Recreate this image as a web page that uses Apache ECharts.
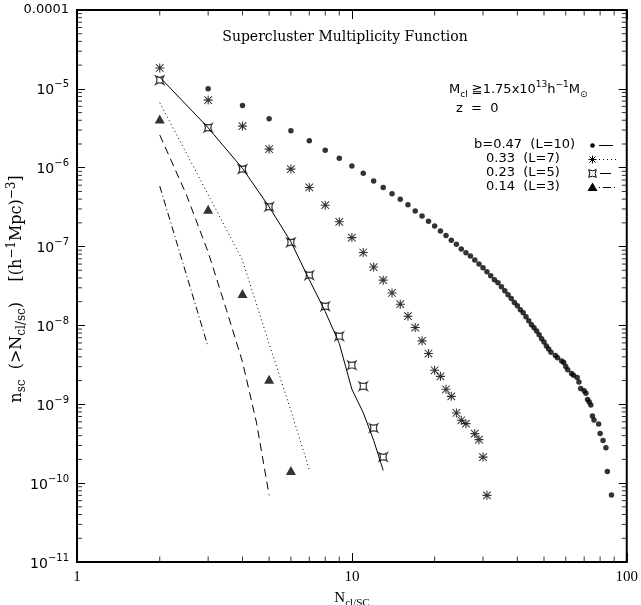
<!DOCTYPE html>
<html><head><meta charset="utf-8">
<script src="https://cdn.jsdelivr.net/npm/echarts@6/dist/echarts.min.js"></script>
<style>html,body{margin:0;padding:0;background:#fff}#c{width:641px;height:605px}</style>
</head><body><div id="c"></div>
<script>
// ---- tick values ----
const xTickValues = [1, 10, 100];
const yTickValues = [1e-11, 1e-10, 1e-9, 1e-8, 1e-7, 1e-6, 1e-5, 1e-4];
const minorMultipliers = [2, 3, 4, 5, 6, 7, 8, 9];

// ---- b=0.47 (L=10) : filled dots ----
const dotsN = [3,4,5,6,7,8,9,10,11,12,13,14,15,16,17,18,19,20,21,22,23,24,25,26,27,28,29,30,31,32,33,34,35,36,37,38,39,40,41,42,43,44,45,46,47,48,49,50,51,52,53,55,56,58,59,60,61,63,64,66,67,68,70,71,72,73,74,75,76,79,80,82,84,85,88];
const dotsNsc = [1.00e-5,6.17e-6,4.17e-6,2.95e-6,2.19e-6,1.66e-6,1.32e-6,1.05e-6,8.51e-7,6.76e-7,5.62e-7,4.68e-7,3.98e-7,3.39e-7,2.82e-7,2.45e-7,2.09e-7,1.82e-7,1.58e-7,1.38e-7,1.20e-7,1.07e-7,9.33e-8,8.32e-8,7.59e-8,6.76e-8,6.03e-8,5.37e-8,4.79e-8,4.27e-8,3.80e-8,3.47e-8,3.09e-8,2.75e-8,2.45e-8,2.19e-8,1.95e-8,1.78e-8,1.58e-8,1.45e-8,1.29e-8,1.15e-8,1.02e-8,9.33e-9,8.51e-9,7.59e-9,6.76e-9,6.17e-9,5.50e-9,5.01e-9,4.57e-9,4.17e-9,3.89e-9,3.55e-9,3.39e-9,3.02e-9,2.75e-9,2.45e-9,2.34e-9,2.19e-9,1.91e-9,1.58e-9,1.48e-9,1.38e-9,1.15e-9,1.07e-9,9.77e-10,7.08e-10,6.31e-10,5.62e-10,4.27e-10,3.47e-10,2.82e-10,1.41e-10,7.08e-11];

// ---- b=0.33 (L=7) : asterisks ----
const starsN = [2,3,4,5,6,7,8,9,10,11,12,13,14,15,16,17,18,19,20,21,22,23,24,25,26,28,29,30,31];
const starsNsc = [1.84e-5,7.2e-6,3.37e-6,1.72e-6,9.6e-7,5.62e-7,3.35e-7,2.06e-7,1.3e-7,8.4e-8,5.5e-8,3.75e-8,2.58e-8,1.86e-8,1.31e-8,9.4e-9,6.37e-9,4.4e-9,2.7e-9,2.26e-9,1.55e-9,1.26e-9,7.76e-10,6.27e-10,5.68e-10,4.25e-10,3.56e-10,2.14e-10,7e-11];

// ---- b=0.23 (L=5) : concave squares ----
const squaresN = [2,3,4,5,6,7,8,9,10,11,12,13];
const squaresNsc = [1.29e-5,3.21e-6,9.6e-7,3.19e-7,1.13e-7,4.34e-8,1.75e-8,7.3e-9,3.13e-9,1.69e-9,5.0e-10,2.14e-10];

// ---- b=0.14 (L=3) : triangles ----
const trianglesN = [2,3,4,5,6];
const trianglesNsc = [4.14e-6,2.98e-7,2.54e-8,2.07e-9,1.45e-10];

// ---- curves ----
const solidN = [2,3,4,5,6,7,8,9,10,11,12,13];
const solidNsc = [1.41e-5,3.21e-6,9.8e-7,3.19e-7,1.15e-7,3.8e-8,1.5e-8,5.9e-9,1.55e-9,7.8e-10,3.5e-10,1.45e-10];
const dottedN = [2,3,4,5,6,7];
const dottedNsc = [6.67e-6,4.57e-7,6.7e-8,5.85e-9,8.3e-10,1.48e-10];
const dashedN = [2,2.5,3,3.5,4,4.5,5];
const dashedNsc = [2.6e-6,4.56e-7,8.5e-8,1.56e-8,3.45e-9,5.82e-10,7e-11];
const dashDotN = [2,3];
const dashDotNsc = [5.84e-7,5.33e-9];

const zip = (a, b) => a.map((v, i) => [v, b[i]]);

const STAR = 'path://M0,4.4L10,4.4L10,5.6L0,5.6Z M4.4,0L5.6,0L5.6,10L4.4,10Z M1.2,0.4L9.6,8.8L8.8,9.6L0.4,1.2Z M8.8,0.4L9.6,1.2L1.2,9.6L0.4,8.8Z';
const CSQ = 'path://M0,0Q5,3 10,0Q7,5 10,10Q5,7 0,10Q3,5 0,0Z';

const X0 = xTickValues[0], X1 = xTickValues[xTickValues.length - 1];
const Y0 = yTickValues[0], Y1 = yTickValues[yTickValues.length - 1];
const yMinor = [], xMinor = [];
for (let i = 0; i < yTickValues.length - 1; i++) minorMultipliers.forEach(k => yMinor.push(k * yTickValues[i]));
for (let i = 0; i < xTickValues.length - 1; i++) minorMultipliers.forEach(k => xMinor.push(k * xTickValues[i]));

const chart = echarts.init(document.getElementById('c'), null, {renderer: 'canvas'});

function xAxisCfg(pos, labels) {
  return {
    type: 'log', logBase: 10, min: X0, max: X1,
    position: pos, axisLine: {show: false},
    axisTick: {show: true, inside: true, length: 9, lineStyle: {color: '#000', width: 1}},
    splitLine: {show: false}, minorTick: {show: false},
    axisLabel: {show: labels, margin: 8, color: '#000', fontFamily: 'Liberation Serif', fontSize: 15,
      formatter: v => String(Math.round(v))}
  };
}
function yAxisCfg(pos, labels) {
  return {
    type: 'log', logBase: 10, min: Y0, max: Y1,
    position: pos, axisLine: {show: false},
    axisTick: {show: true, inside: true, length: 8, lineStyle: {color: '#000', width: 1}},
    splitLine: {show: false}, minorTick: {show: false},
    axisLabel: {show: labels, margin: 8, color: '#000', fontFamily: 'DejaVu Sans',
      formatter: v => {
        const e = Math.round(Math.log10(v));
        return e === -4 ? '{p|0.0001}' : '{b|10}{s|\u2212' + (-e) + '}';
      },
      rich: {
        p: {fontSize: 13, fontFamily: 'DejaVu Sans', color: '#000', verticalAlign: 'bottom', padding: [0, 0, 0, 0]},
        b: {fontSize: 14, fontFamily: 'DejaVu Sans', color: '#000', verticalAlign: 'bottom'},
        s: {fontSize: 10, fontFamily: 'DejaVu Sans', color: '#000', verticalAlign: 'bottom', padding: [0, 0, 8, 0]}
      }
    }
  };
}

const tickSeries = (data, size, offset) => ({
  type: 'scatter', data: data, symbol: 'rect', symbolSize: size, symbolOffset: offset,
  itemStyle: {color: '#000'}, clip: false, silent: true, z: 5, emphasis: {disabled: true}, tooltip: {show: false}
});

const lineStyleBase = {color: '#000', width: 1};
chart.setOption({
  animation: false,
  backgroundColor: '#fff',
  grid: {left: 77, top: 10, width: 551, height: 552, show: true, borderColor: '#000', borderWidth: 2, backgroundColor: 'transparent'},
  xAxis: [xAxisCfg('bottom', true), xAxisCfg('top', false)],
  yAxis: [yAxisCfg('left', true), yAxisCfg('right', false)],
  series: [
    {type: 'line', data: zip(solidN, solidNsc), showSymbol: false, lineStyle: Object.assign({type: 'solid'}, lineStyleBase), z: 2},
    {type: 'line', data: zip(dottedN, dottedNsc), showSymbol: false, lineStyle: Object.assign({type: [1, 3]}, lineStyleBase), z: 2},
    {type: 'line', data: zip(dashedN, dashedNsc), showSymbol: false, lineStyle: Object.assign({type: [8, 5]}, lineStyleBase), z: 2},
    {type: 'line', data: zip(dashDotN, dashDotNsc), showSymbol: false, lineStyle: Object.assign({type: [7, 3, 1, 3]}, lineStyleBase), z: 2},
    {type: 'scatter', data: zip(dotsN, dotsNsc), symbol: 'circle', symbolSize: 5.5, itemStyle: {color: '#000'}, z: 3},
    {type: 'scatter', data: zip(starsN, starsNsc), symbol: STAR, symbolSize: 9, itemStyle: {color: '#000'}, z: 3},
    {type: 'scatter', data: zip(squaresN, squaresNsc), symbol: CSQ, symbolSize: 8, itemStyle: {color: 'rgba(0,0,0,0)', borderColor: '#000', borderWidth: 1.2}, z: 3},
    {type: 'scatter', data: zip(trianglesN, trianglesNsc), symbol: 'triangle', symbolSize: [10, 9], itemStyle: {color: '#000'}, z: 3},
    // minor ticks on the four frame sides, placed through the axes
    tickSeries(yMinor.map(v => [X0, v]), [5, 1], [2.5, 0]),
    tickSeries(yMinor.map(v => [X1, v]), [5, 1], [-2.5, 0]),
    tickSeries(xMinor.map(v => [v, Y0]), [1, 5.5], [0, -2.75]),
    tickSeries(xMinor.map(v => [v, Y1]), [1, 5.5], [0, 2.75])
  ]
});

// ---- texts and legend key ----
const g = [];
const ln = (a, b, c, d, dash) => g.push({type: 'line', silent: true, z: 10, shape: {x1: a, y1: b, x2: c, y2: d}, style: Object.assign({stroke: '#000', lineWidth: 1}, dash ? {lineDash: dash} : {})});
const F = 13;
const richStd = (fam, fs) => ({
  n: {fontFamily: fam, fontSize: fs, color: '#000', verticalAlign: 'bottom', padding: [0, 0, 3, 0]},
  sub: {fontFamily: fam, fontSize: Math.round(fs * 0.72), color: '#000', verticalAlign: 'bottom', padding: [0, 0, 0, 0]},
  sup: {fontFamily: fam, fontSize: Math.round(fs * 0.72), color: '#000', verticalAlign: 'bottom', padding: [0, 0, 10, 0]}
});
g.push({type: 'text', silent: true, x: 345, y: 37, style: {text: 'Supercluster Multiplicity Function', font: '14px "DejaVu Serif"', fill: '#000', textAlign: 'center', textVerticalAlign: 'middle'}});
g.push({type: 'text', silent: true, x: 352, y: 600, style: {text: '{n|N}{sub|cl/SC}', rich: richStd('Liberation Serif', 15), textAlign: 'center', textVerticalAlign: 'middle'}});
g.push({type: 'text', silent: true, x: 17, y: 289, rotation: Math.PI / 2, style: {
  text: '{n|n}{sub|sc}{n|  (>N}{sub|cl/sc}{n|)    [(h}{sup|\u22121}{n|Mpc)}{sup|\u22123}{n|]}',
  rich: richStd('DejaVu Serif', 16), textAlign: 'center', textVerticalAlign: 'middle'}});
g.push({type: 'text', silent: true, x: 449, y: 90, style: {
  text: '{n|M}{sub|cl}{n| \u22671.75x10}{sup|13}{n|h}{sup|\u22121}{n|M}{sub|\u2299}',
  rich: richStd('DejaVu Sans', F), textAlign: 'left', textVerticalAlign: 'middle'}});
g.push({type: 'text', silent: true, x: 456, y: 109, style: {text: 'z  =  0', font: F + 'px "DejaVu Sans"', fill: '#000', textAlign: 'left', textVerticalAlign: 'middle'}});
const rowsY = [145, 159, 173, 187];
const rowText = ['b=0.47  (L=10)', '0.33  (L=7)', '0.23  (L=5)', '0.14  (L=3)'];
const rowX = [474, 486, 486, 486];
rowText.forEach((t, i) => g.push({type: 'text', silent: true, x: rowX[i], y: rowsY[i], style: {text: t, font: F + 'px "DejaVu Sans"', fill: '#000', textAlign: 'left', textVerticalAlign: 'middle'}}));
const sx = 592.5, lx0 = 599, lx1 = 613;
g.push({type: 'circle', silent: true, shape: {cx: sx, cy: rowsY[0] + 0.5, r: 2.3}, style: {fill: '#000'}});
const sy = rowsY[1] + 0.5;
ln(sx - 4, sy, sx + 4, sy); ln(sx, sy - 4, sx, sy + 4); ln(sx - 3, sy - 3, sx + 3, sy + 3); ln(sx + 3, sy - 3, sx - 3, sy + 3);
const qy = rowsY[2] + 0.5, h = 3.8;
const bz = (x1, y1, cpx, cpy, x2, y2) => g.push({type: 'bezierCurve', silent: true, shape: {x1: x1, y1: y1, x2: x2, y2: y2, cpx1: cpx, cpy1: cpy}, style: {stroke: '#000', lineWidth: 1, fill: null}});
bz(sx - h, qy - h, sx, qy - h * 0.4, sx + h, qy - h);
bz(sx + h, qy - h, sx + h * 0.4, qy, sx + h, qy + h);
bz(sx + h, qy + h, sx, qy + h * 0.4, sx - h, qy + h);
bz(sx - h, qy + h, sx - h * 0.4, qy, sx - h, qy - h);
g.push({type: 'polygon', silent: true, shape: {points: [[sx, rowsY[3] - 4.5], [sx + 5, rowsY[3] + 4], [sx - 5, rowsY[3] + 4]]}, style: {fill: '#000'}});
ln(lx0, rowsY[0] + 0.5, lx1, rowsY[0] + 0.5);
ln(lx0, rowsY[1] + 0.5, lx1 + 3, rowsY[1] + 0.5, [1, 3]);
ln(lx0 + 1, rowsY[2] + 0.5, lx1 - 2, rowsY[2] + 0.5);
ln(lx0, rowsY[3] + 0.5, lx1 + 2, rowsY[3] + 0.5, [1, 3, 8, 3]);

chart.setOption({graphic: {elements: g}});
</script>
</body></html>
